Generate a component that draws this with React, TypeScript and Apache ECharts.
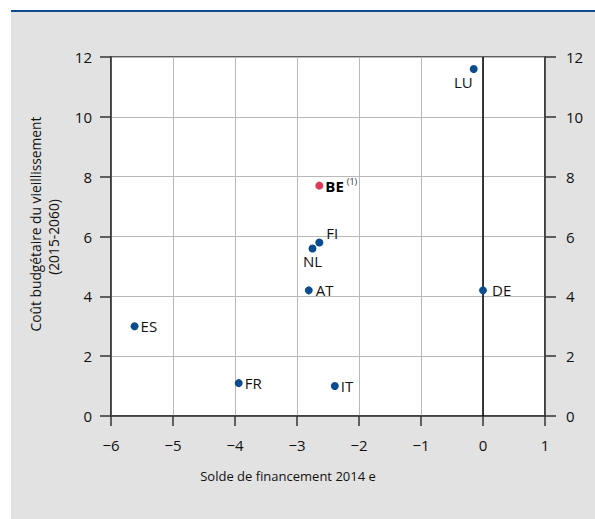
import React, { useEffect, useRef } from "react";
import * as echarts from "echarts";

const countries = ["LU", "BE", "FI", "NL", "AT", "DE", "ES", "FR", "IT"];
const financingBalance = [-0.15, -2.64, -2.64, -2.75, -2.81, 0, -5.62, -3.94, -2.39];
const agingCost = [11.6, 7.7, 5.8, 5.6, 4.2, 4.2, 3.0, 1.1, 1.0];
const xTicks = { min: -6, max: 1, interval: 1 };
const yTicks = { min: 0, max: 12, interval: 2 };
const xTitle = "Solde de financement 2014 e";
const yTitle1 = "Coût budgétaire du vieillissement";
const yTitle2 = "(2015-2060)";

const FONT = "'Open Sans', 'Noto Sans', sans-serif";
const BLUE = "#0b4c8f";
const RED = "#e03a55";
const AXIS = "#333333";
const TEXT = "#111111";

const labelCfg: Record<string, any> = {
  LU: { position: "left", distance: -3, offset: [0, 13] },
  BE: { position: "right", distance: 2 },
  FI: { position: "right", distance: 3, offset: [0, -9] },
  NL: { position: "bottom", distance: 1 },
  AT: { position: "right", distance: 3 },
  DE: { position: "right", distance: 5 },
  ES: { position: "right", distance: 2 },
  FR: { position: "right", distance: 2 },
  IT: { position: "right", distance: 2 },
};

const minus = (v: number) => String(v).replace("-", "\u2212");

export default function App() {
  const ref = useRef<HTMLDivElement>(null);
  useEffect(() => {
    document.body.style.margin = "0";
    const chart = echarts.init(ref.current!, null, { renderer: "svg" });
    const data = countries.map((c, i) => {
      const isBE = c === "BE";
      return {
        name: c,
        value: [financingBalance[i], agingCost[i]],
        itemStyle: { color: isBE ? RED : BLUE, opacity: 1 },
        label: {
          show: true,
          ...labelCfg[c],
          formatter: isBE ? "{b|BE}{s|(1)}" : "{b}",
          color: TEXT,
          fontFamily: FONT,
          fontSize: 15,
          rich: isBE
            ? {
                b: { fontWeight: "bold", fontSize: 15, fontFamily: FONT, color: "#000" },
                s: { fontSize: 9, fontFamily: FONT, color: "#333", padding: [0, 0, 8, 3] },
              }
            : undefined,
        },
      };
    });
    const axisLabel = { color: TEXT, fontFamily: FONT, fontSize: 15 };
    chart.setOption({
      animation: false,
      backgroundColor: "#ffffff",
      graphic: [
        { type: "rect", shape: { x: 11, y: 12, width: 584, height: 507 }, style: { fill: "#e2e2e2" }, z: -10 },
        { type: "rect", shape: { x: 11, y: 10, width: 584, height: 2 }, style: { fill: "#0b4c8f" }, z: -9 },
        {
          type: "text",
          x: 288,
          y: 476,
          style: { text: xTitle, fontFamily: FONT, fontSize: 13, fill: TEXT, textAlign: "center", textVerticalAlign: "middle" },
        },
        {
          type: "text",
          x: 35,
          y: 224,
          rotation: Math.PI / 2,
          style: { text: yTitle1, fontFamily: FONT, fontSize: 13.8, fill: TEXT, textAlign: "center", textVerticalAlign: "middle" },
        },
        {
          type: "text",
          x: 53,
          y: 237,
          rotation: Math.PI / 2,
          style: { text: yTitle2, fontFamily: FONT, fontSize: 13.8, fill: TEXT, textAlign: "center", textVerticalAlign: "middle" },
        },
      ],
      grid: {
        left: 111,
        top: 57,
        width: 434,
        height: 359,
        show: true,
        backgroundColor: "#ffffff",
        borderColor: AXIS,
        borderWidth: 1.5,
      },
      xAxis: {
        type: "value",
        ...xTicks,
        axisLine: { show: true, onZero: false, lineStyle: { color: AXIS, width: 1.5 } },
        axisTick: { show: true, length: 10, lineStyle: { color: AXIS, width: 1.5 } },
        axisLabel: { ...axisLabel, margin: 21, formatter: (v: number) => minus(v) },
        splitLine: { show: true, lineStyle: { color: "#b8b8b8", width: 1 } },
      },
      yAxis: [
        {
          type: "value",
          position: "left",
          ...yTicks,
          axisLine: { show: true, onZero: false, lineStyle: { color: AXIS, width: 1.5 } },
          axisTick: { show: true, length: 11, lineStyle: { color: AXIS, width: 1.5 } },
          axisLabel: { ...axisLabel, margin: 19 },
          splitLine: { show: true, lineStyle: { color: "#b8b8b8", width: 1 } },
        },
        {
          type: "value",
          position: "right",
          ...yTicks,
          axisLine: { show: true, onZero: false, lineStyle: { color: AXIS, width: 1.5 } },
          axisTick: { show: true, length: 11, lineStyle: { color: AXIS, width: 1.5 } },
          axisLabel: { ...axisLabel, margin: 21 },
          splitLine: { show: false },
        },
      ],
      series: [
        {
          type: "scatter",
          symbolSize: 8,
          data,
          z: 5,
          markLine: {
            silent: true,
            symbol: "none",
            label: { show: false },
            lineStyle: { color: "#000", width: 1.5, type: "solid" },
            data: [{ xAxis: 0 }],
          },
        },
      ],
    });
    return () => chart.dispose();
  }, []);
  return <div ref={ref} style={{ width: 595, height: 519 }} />;
}
